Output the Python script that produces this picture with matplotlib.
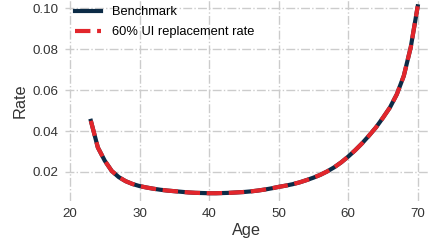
import matplotlib
matplotlib.use("Agg")
import matplotlib.pyplot as plt

# Values
ages = list(range(23, 71))
benchmark = [
    0.0450, 0.0320, 0.0255, 0.0205, 0.0175, 0.0155, 0.0141, 0.0131,  # 23-30
    0.0124, 0.0118, 0.0113, 0.0109, 0.0106, 0.0103, 0.0100, 0.0098,  # 31-38
    0.0097, 0.0096, 0.0096, 0.0097, 0.0098, 0.0100, 0.0102, 0.0105,  # 39-46
    0.0109, 0.0114, 0.0120, 0.0127, 0.0133, 0.0140, 0.0149, 0.0160,  # 47-54
    0.0172, 0.0186, 0.0203, 0.0223, 0.0247, 0.0275, 0.0306, 0.0340,  # 55-62
    0.0378, 0.0418, 0.0465, 0.0515, 0.0580, 0.0670, 0.0810, 0.1010,  # 63-70
]
ui_60 = list(benchmark)

plt.rcParams['font.family'] = ['Liberation Sans', 'DejaVu Sans']

fig = plt.figure(figsize=(4.28, 2.46), dpi=100, facecolor='white')
ax = fig.add_axes([65 / 428, 1 - 201 / 246, 1 - 65 / 428, 201 / 246])

ax.plot(ages, benchmark, color='#0c2b46', lw=3.0, label='Benchmark')
ax.plot(ages, ui_60, color='#e2262c', lw=3.0, ls='--',
        label='60% UI replacement rate')

ax.set_xlim(19.28, 71.48)
ax.set_ylim(0.0058, 0.1041)
ax.set_xticks([20, 30, 40, 50, 60, 70])
ax.set_yticks([0.02, 0.04, 0.06, 0.08, 0.10])
ax.set_yticklabels(['0.02', '0.04', '0.06', '0.08', '0.10'])

ax.grid(True, color='#cccccc', ls='-.', lw=1.0)
ax.set_axisbelow(True)
for s in ax.spines.values():
    s.set_visible(False)
ax.tick_params(length=0, pad=5, labelsize=9.6, colors='#333333')

ax.set_xlabel('Age', fontsize=11.7, color='#333333', labelpad=2)
ax.set_ylabel('Rate', fontsize=11.7, color='#333333', labelpad=3)

ax.legend(loc='upper left', frameon=False, fontsize=9.3,
          handlelength=2.0, handletextpad=0.85, borderaxespad=0.1,
          labelspacing=0.6, bbox_to_anchor=(0.01, 1.0))

fig.savefig('out.png', dpi=100, facecolor='white')
